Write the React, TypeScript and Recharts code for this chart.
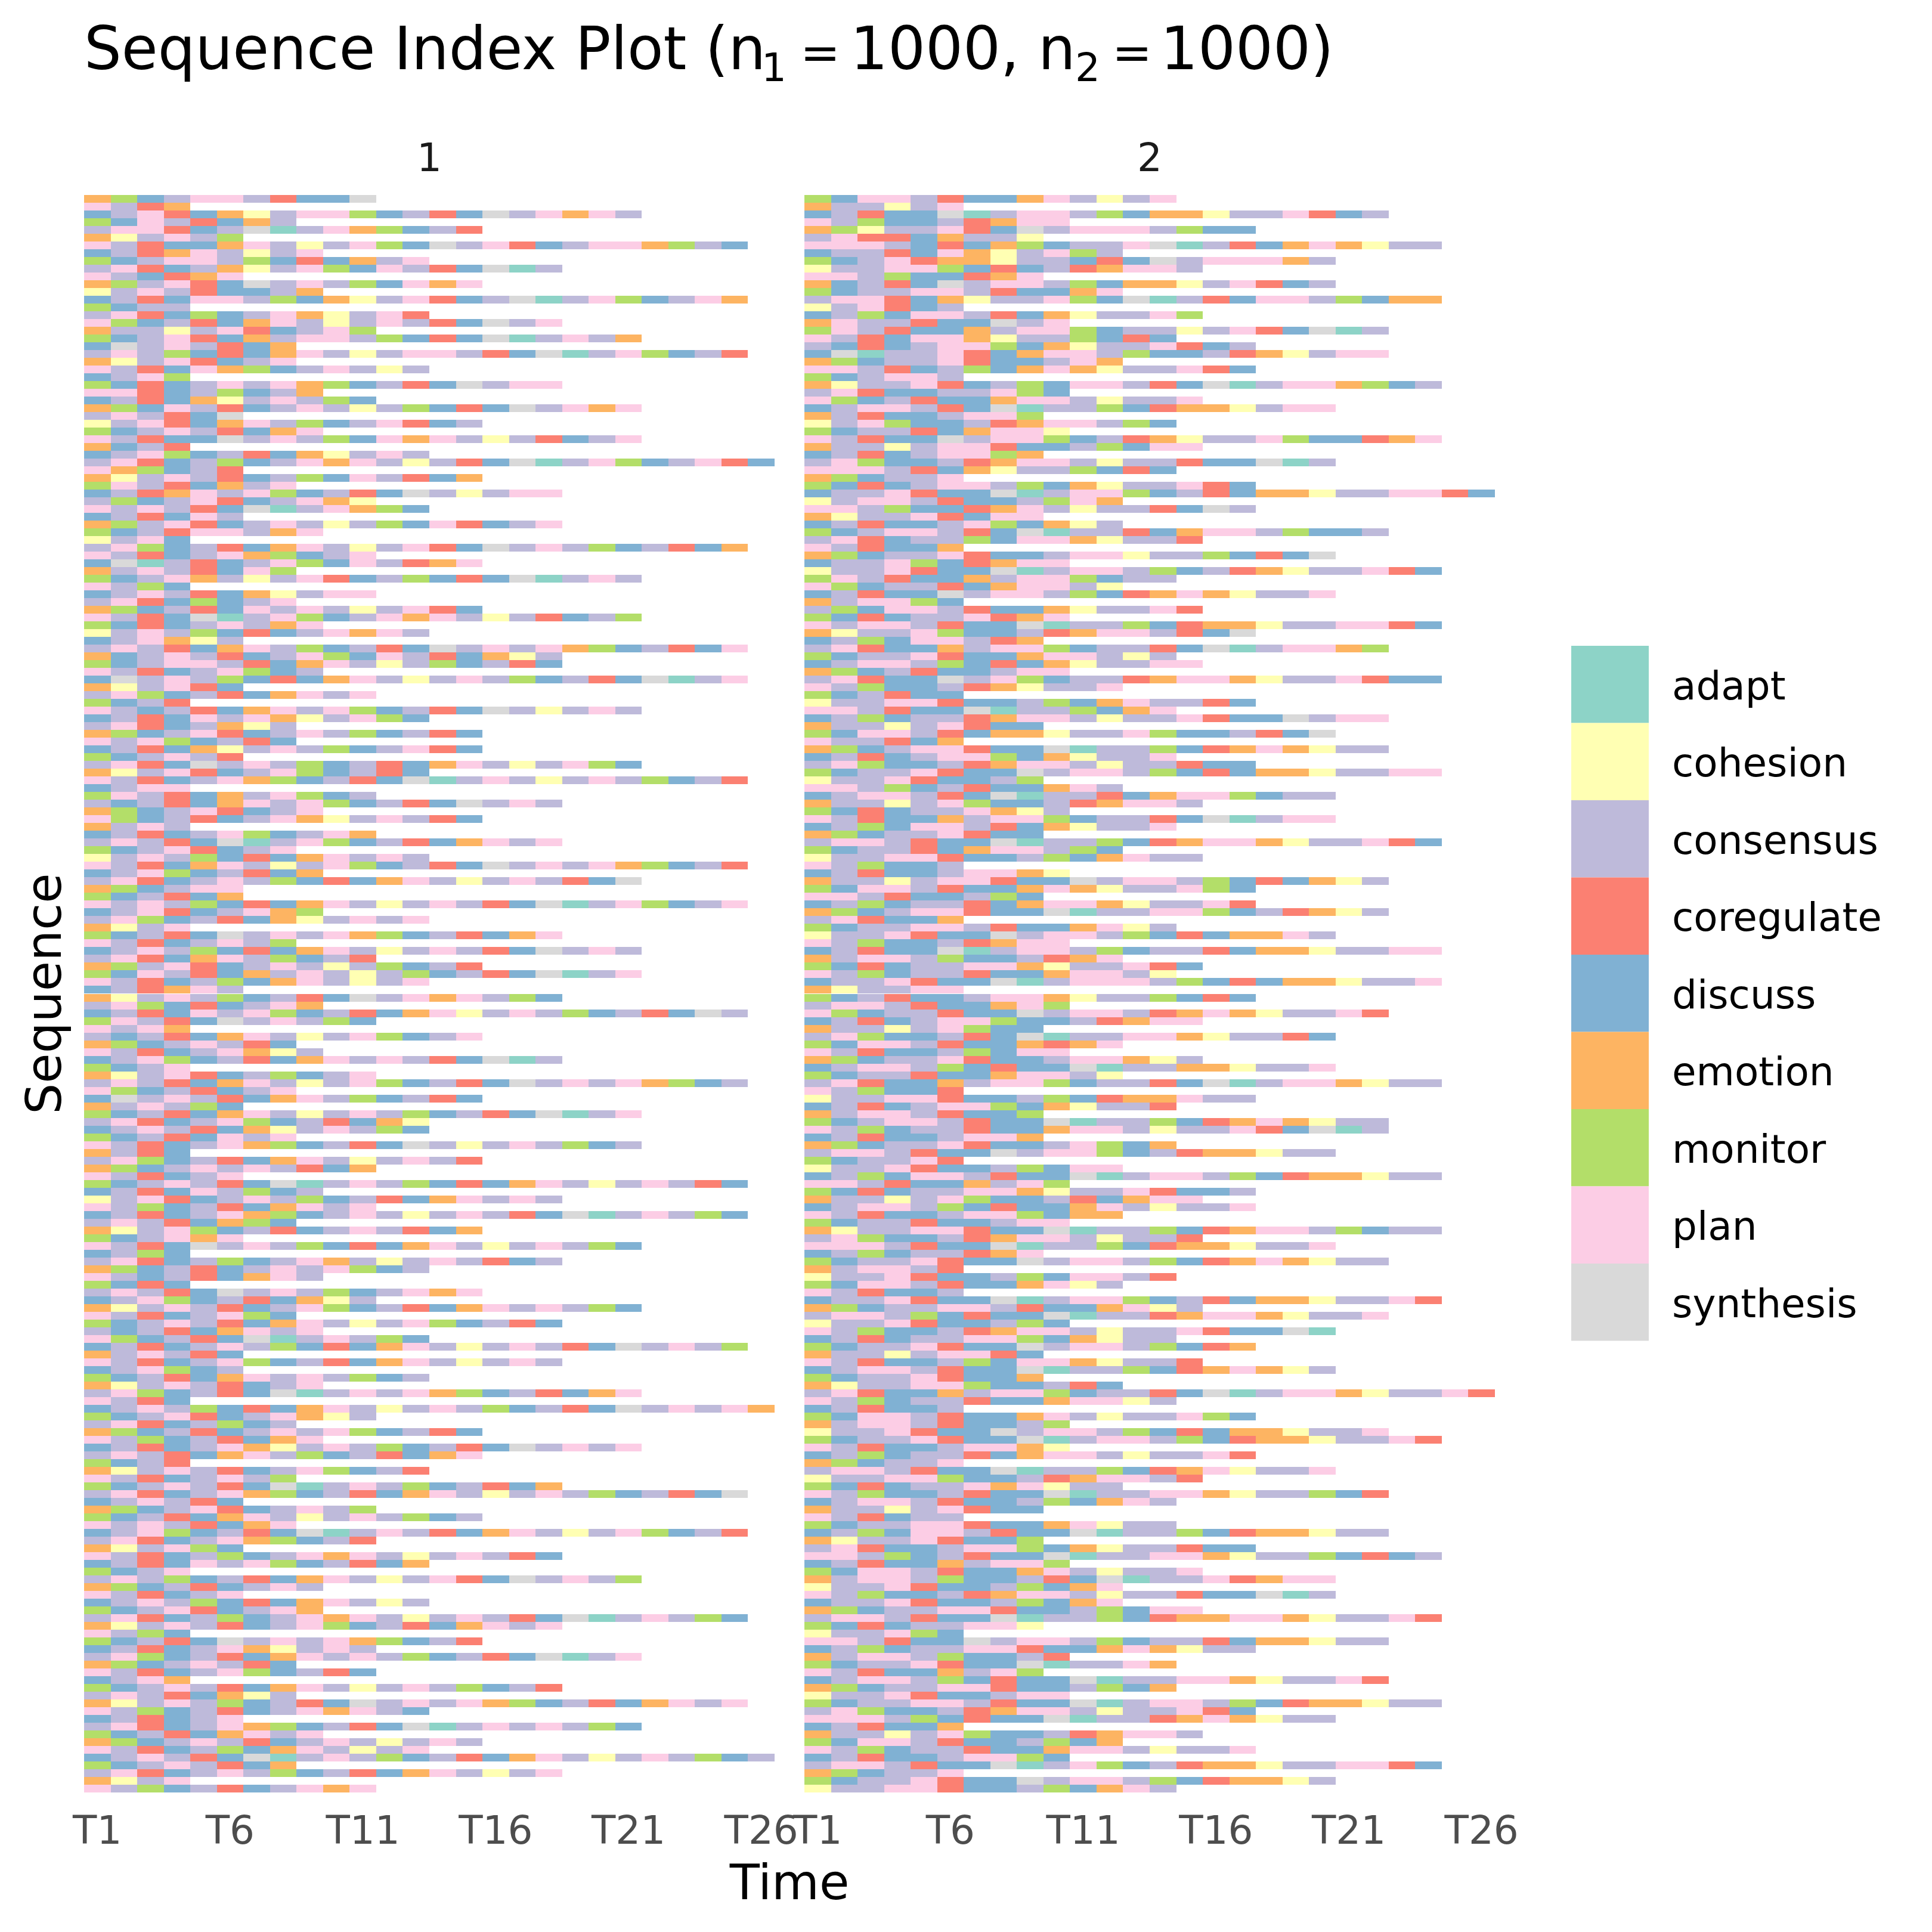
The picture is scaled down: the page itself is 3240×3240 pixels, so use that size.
import React from 'react';
import { BarChart, Bar, XAxis, YAxis, Cell } from 'recharts';

const STATE_NAMES = ['adapt', 'cohesion', 'consensus', 'coregulate', 'discuss', 'emotion', 'monitor', 'plan', 'synthesis'];
const STATE_CODES = ['a', 'h', 'c', 'r', 'd', 'e', 'm', 'p', 's'];
const STATE_COLORS = ['#8DD3C7', '#FFFFB3', '#BEBADA', '#FB8072', '#80B1D3', '#FDB462', '#B3DE69', '#FCCDE5', '#D9D9D9'];

const TIME_POINTS = ['T1', 'T2', 'T3', 'T4', 'T5', 'T6', 'T7', 'T8', 'T9', 'T10', 'T11', 'T12', 'T13',
  'T14', 'T15', 'T16', 'T17', 'T18', 'T19', 'T20', 'T21', 'T22', 'T23', 'T24', 'T25', 'T26'];
const TICK_LABELS = ['T1', 'T6', 'T11', 'T16', 'T21', 'T26'];
const GROUP_LABELS = ['1', '2'];
const GROUP_SIZES = [1000, 1000];

// one string per sequence, one letter per time point (codes in STATE_CODES)
const GROUP1_SEQS = [
  'emdcppcrdds', 'pcre', 'dcprdehcppmdcrdscpepc', 'mdpcrdec', 'cpprdcsacpemdcr', 'ehcpcm', 'pcrddepchcpmdscprdcppemcd', 'dcrepchcp', 'mdcppcmdrdecp', 'cprdcehcpmdpcrdsac',
  'pcdrep', 'emcprdscpcmdpep', 'hcpcrddce', 'dcrdppcmdehcprdcsacpmdcpe', 'mdcc', 'cprdmdcpehcpr', 'pmdcrdepchcpcrdscp', 'ecchcprdcpm', 'mdcprdecppcmdrdsacpce', 'dscpcrde',
  'cpcmdrdepchcppcrdsacpmdcr', 'ehcprdcp', 'pcrdpemdcpchc', 'dcpm', 'mdrdcpcpemdcrdscpp', 'pprdcmdce', 'dcrdehcpcmd', 'emdpcrdcpchcmdrdscpep', 'cpcrds', 'hcprdepcmdcprdc',
  'mdcpcrdep', 'pcrddscpcmdpepchcrdcp', 'edcr', 'dcpmdcrdehcpc', 'cprdcmdcpepchcrdsacpmdcprd', 'pemdcr', 'ehcpcrdcmdpcrde', 'mpcrdecp', 'dcrepcpmdcrdschcpp', 'cmdcprdcpeh',
  'pcpcrdsacpemd', 'dcrdpc', 'emcprdcpchcmdprdcp', 'mdcrppcep', 'hcpd', 'cpmdcrdepchcprdscpcmdcrde', 'pcrdcpemdcp', 'dsacrdcpmdpcrep', 'ecpcrdpm', 'mdcpechcprdcmdrdsacpc',
  'pcmd', 'dcpcrdehcpp', 'cprdmdcp', 'emdcrdpcpchcprd', 'pcrdsacpmdcpepchcrdcm', 'mdrdcpcep', 'hcpcmdrdcpepc', 'dcpehc', 'cpcrdepcmdcrdscpcpemdcrdp', 'edcpcrdcpmdpcrdehc',
  'mdcppcrdepchcmdcrd', 'pcrdcpmdc', 'dscpcmdrdepchcpcmdcrdsacp', 'ehcprd', 'cpmdcrdepcp', 'mdcr', 'pcdcrdepcpmdcrdschcpc', 'dcrdpcpehcpmd', 'cprdcehc', 'emdcprdcpcmdcrd',
  'pcpmdcrd', 'dcrdehcpcmdcprd', 'mdcpcr', 'cprdscpcmdcrdepchcpmd', 'ehcprdcpmdcrd', 'pcrdcpemdcrdsacpchcpcmdcr', 'dcpp', 'mpcrdecpmdc', 'cdcrdepcpmdcrdscpc', 'emdcprdcp',
  'pmdcrdcpehcpcrd', 'ecpc', 'dcrdcpmdcpe', 'cpcrdsacpmdcrdepcp', 'mdcprdcp', 'hcpcmdrdepcpc', 'pcrdepchcpmdcrdscpcpemdcr', 'dcpmdcrde', 'cprdcpcmdrdepchcpcrds', 'emdcpp',
  'mdcrde', 'pcpcmdrdepchcpcrdsacpmdcp', 'dcprdcpem', 'cpmdcrdehcpcp', 'ehcp', 'mdcrdscpcpemdcrdep', 'pcrdcpcm', 'dcpcmdrdepchcpcrdscpc', 'cprdepcmdcr', 'emcprdcpchcmdcr',
  'mdpcrdecpchcmdcrdsacp', 'pcrdcmdepchcp', 'dcrepc', 'ehcpcmdcrdscpepcmd', 'cpmdrdcpe', 'dcrdpcpmdcrdephcpcmdcrdsc', 'mpcrdscpcmd', 'pcpe', 'cdcrdepchcpmdcp', 'emdcpcrd',
  'pcrdcpehc', 'dcpmdcrdepcpcrdsac', 'mdcp', 'ehcprdcmdcp', 'cpcrdepchcpmdcrdscpcpemdc', 'pmdcrdcp', 'dscpcrdepcmdcrd', 'ecpcmd', 'mdcrdepchcpcmdcrdsacp', 'cprdcpmdcrdeh',
  'dcpcrdehcpcmd', 'mdcrdpcp', 'pcrdcpemdcrdschcpcmdc', 'ecrd', 'cpmdcrdepchcpcr', 'emdcpcpcrde', 'pcrdcp', 'mdcpcrdsacpcmdrdepchcpcrd', 'dcrdpcmdc', 'hcprdcpcmdcrdepcpc',
  'pcmdcrdepcp', 'dcrdcpemdcpchcpcrdsacpcmd', 'cpcrdemd', 'ehcpmdcrdcpcrde', 'mdcpep', 'pcrdscpcmdrdepchcpcmd', 'dcmd', 'cprdcmdcpechcpcrdc', 'emdcrdcpcpmdc', 'pcdcrdepc',
  'mdrd', 'cpcrdscpcmdcpep', 'dcpmdcrdehc', 'ehcpcrdcpmdcrdepcpcmd', 'pcrdcpmd', 'mdcpcrdepchcpmdcrd', 'cdcrdepcp', 'pmdcrdsacpcmd', 'dcrdcpcmdrdepchcpcrdscpcm', 'ecpcrd',
  'pcrdcpmdcrdepchcpc', 'dcpmdc', 'mdcrdepcpcmdc', 'ehcpcrdcp', 'cpmdcrdsacpcpemdcrdep', 'pcrd', 'dcpcmdrdepchcpcmdcrdscpcpe', 'mdcprdcpehc', 'cprdcmdc', 'emdcrdcpcpmdcrd',
  'pcmdcrdep', 'dcrdcpehcpcmdcrdscpcp', 'cpcrdepcmdcrdep', 'mdcr', 'ehcpcrdcpmdcr', 'pcrdcpcm', 'mdcpcrdsacpcmdcrde', 'cprdcpemdcrdepchcpcmdcrds', 'dcpcrd', 'emdcprdcpcm',
  'mdcrdepchcpcmdc', 'pcpcrdep', 'dcpmdcrdsacpcrdepchcpmdcr', 'cprdcpemdcr', 'ehcpmd', 'pcrdcmdcpepchcpcrd', 'dcrdpcpmdcrde', 'mdcp', 'cpcmdcrdepchcprdscpcm', 'emdcrdcpc',
  'pcrdcp', 'dcpcmdrdepchc', 'mdcprdcpe', 'cprdcmdcpepchcpcrdsacpcmd', 'ehcpcrdcpmdcrdepcp', 'pcmd', 'mdcrdscpcpemdcr', 'dcrdcpehcpc', 'cpmdcrdepcpcmdcrdsacp', 'emdcpcrd',
  'pcrdcpmdcrd', 'dcpe', 'mdcpcrdepchcpcmdcr', 'cpcrdehc', 'ehcpcmdcrdscpcpemdcrdepcp', 'pcmdcrdcpepcd', 'dcrdcp', 'cprdcpemdcrdsacpcpcmd', 'mdcrdepcp', 'emdcpcrdcpchcpc',
  'pcrdcmdepchcp', 'dcpcrdsacpcmdcrdepchcpcmdc', 'mdcpcrde', 'cprdcpcmdcrdepchcp', 'ehcp', 'pcmdcrdcpep',
];

const GROUP2_SEQS = [
  'mdppcrddepchcp', 'ecchcp', 'dcrddsacppcmdeehccprdc', 'pcmddcrepp', 'emhccprdscpppcmdd', 'cprrdecch', 'pppcdrdemdccpsacrdepehcc', 'dccrdpehcpmc', 'mdcpreehccdrdscpppec', 'hccppmdrdcreppc',
  'ppcmddrep', 'edcrdscppcmdeehcprdc', 'mdccppcrddep', 'cpprdehccpmdsacrdppcmdee', 'hcprdc', 'dcmdppcrdehccpm', 'epccrddscp', 'mpcrddecppmdcchcprdsac', 'pcrdppehccmdrd', 'cdrdcppmdehccprdc',
  'dsaccprdeppcmddcrehcpp', 'emdccprddcpe', 'ppcrdcmdepehccprd', 'mdcppc', 'ehccprdcmdppcrdsacppemdc', 'cprddccpmd', 'pmdcrddeppchccp', 'dcppcrdsaccmdreehcpp', 'ecrddcppm', 'hcpmddcreppcmd',
  'mdccrdepph', 'pcrddscppmdcrehccpmddrep', 'ecchcpprddcmdpp', 'dcrdcppme', 'cpmddcreppchccrddsac', 'pppcrdehccmdrd', 'emdccp', 'mdrdcppcmdehccprd', 'dccprddsacppmdcrdeehccpprd', 'hcppcrddcmpe',
  'ppcmddrepchccrdsc', 'ehccprdpp', 'dcrddcpmdehc', 'mdcppcrdsaccrdeppcmddc', 'cprdccmdppehccr', 'pcrdde', 'emdccprddcpphccmdrds', 'dccpmdrepp', 'hccprddsacppcmdcrehccprd', 'mpcrddecppmdcc',
  'pmdccrdeppch', 'dcrddscppcmdrepehccp', 'ecppmd', 'cmdppcrddehccpr', 'mdrdccprep', 'pcppcrddsaccmdreehccpprd', 'ehccpmddcreppcrds', 'dcmdppcre', 'cprddecppmdccrdsacppem', 'mdccprddeppchc',
  'dcppcmdrdehccpp', 'emdcrddcpp', 'cprddscpmdccreppehccprdd', 'pcmddcrehccp', 'mdcrdd', 'hccpprddcmdepccrd', 'ppcrddsaccmdep', 'dcmdccreppchccprddscpp', 'ecchcprdd', 'mdppcrdeehccpmddcrds',
  'pccrde', 'emdcpprddsaccmdrepehcc', 'dcrdcppmdehccp', 'cpmddcreppchccrdd', 'mdccprddscppcmdrdeehccpp', 'hccprddcm', 'ppcmdcrddepc', 'dcppcrdsaccrdeppmdcc', 'ecchcpmddcreppc', 'mdrdccpehc',
  'pcrddecppmdccrdsacpp', 'dcmdppcrdehccp', 'emdccprdd', 'cppcrddsaccmdreppehccprd', 'mdccrdeppcmd', 'hccpprddcmdepcc', 'pcmddc', 'dcrddcppeh', 'ecchcpprddscppcmdrdehc', 'mdppcrddepehccpmd',
  'ppcrddcmd', 'dcmdccrdeppehccpr', 'emdcpprddsaccppmdcrehc', 'cprdde', 'mdccppcrddephc', 'hccprddscppcmdrdeepc', 'pcmddcrepp', 'dcrddsacppcmdccrdeehccpp', 'ecppcmddcrep', 'mdrdccppehccprd',
  'pcmdccrddeppch', 'dccprddsacpppcmdrdeehccp', 'ehccpp', 'mdcrddcppehccmdrd', 'cppcrddepm', 'pmdccrddscppcrepehccpr', 'dcrdcppmddcrepp', 'ecchcpmdd', 'cpmddcrdsaccppehccrd', 'mdppcrdderep',
  'pcrddcmdpp', 'emdccprddcppehc', 'dcppcmdrddsacceehccp', 'mdccrddeppch', 'cprddecppmdccrdsacppehcc', 'pcmddr', 'hccpprddcmdreepcc', 'dcrdcppmdehccr', 'ecppcrddm', 'mdcppcrddsaccmdrepehcc',
  'pcmdccrddeppchccprdsac', 'dcrddcppe', 'emdccprddcpmde', 'cppcrddscppmdcreehcc', 'mdccpr', 'hccprddcmdpp', 'dcmdppcrddsacppcmdreehcc', 'ppcrddecpm', 'mdrdccppehccprddc', 'ecchcpmddcrdepp',
  'dcppcmdrddepchccp', 'pcrddcppmdee', 'mdccrddcpp', 'ehccpprddsaccmdreppcmdcc', 'cpmddcreppchccr', 'pppcrddsaccmdreehccp', 'dcmdccrep', 'mdccprddscppcmdrepehcc', 'ecppcr', 'hccprddcmdppcr',
  'mdppcrddephc', 'pcrddc', 'dccprddsacppmdcrdeehccpr', 'emdccppcrddephc', 'cppcmdrddsaccreppehccp', 'hccprddcmd', 'pcmddcreppchccprddsa', 'dcrdccppmdehcc', 'mdccprddscppcmdre', 'ecchcpprd',
  'pcrddcmdppehccr', 'dcppcrddsaccmdrepehc', 'mdccprdde', 'ehccppmddcrd', 'cprddecppmdccrdsacppehccpr', 'pcmdccrddepphc', 'dcrddc', 'mdppcrddepchccpmd', 'ecppcrddcm', 'hccprddscppcmdrdeehccp',
  'mdccprddsacppcmdreehccpr', 'pcrddcppeh', 'dcmdccrdeppchccpr', 'emdccp', 'cppcrddsaccmdrephccp', 'hccppmddcreppcr', 'mdrdccpephcc', 'pcmddcrddsaccppehccmdr', 'dcppcrddcmdepc', 'ecchcprdd',
  'pcrdcc', 'mdccpprddephcc', 'dcmdppcrddsaccmdreehcc', 'ehccprddm', 'cprddcppmdehccrdd', 'ppcmdcrddsaccppehccmdrdc', 'dcrddecppm', 'mdppcrddepchccp', 'ecppcmddcrdsaccprepp', 'hccprddcmdep',
  'pcmddcreppchccrddsac', 'dccprddcmdep', 'emdccpprddcmdpp', 'cppcrddsaccmdreeppehccpr', 'mdrdccpph', 'hccpmd', 'ppcrddscppcmdccrdeehcc', 'dcmdccpprddepehcc', 'ecppcmddcr', 'mdccprddsaccpe',
  'pcrddecpm', 'dcppcmdrddsaccppehccpr', 'emdccpprddcmde', 'hccprddcpp', 'mdccppcrddsacppcmdreehcc', 'cpmddcreppchccprd', 'pppcmdrddsaccrepehcc', 'dcrdde', 'ecchcpmddcreppc', 'mdppcrddcmde',
  'pcmdccrddeppchccp', 'dcrddcppmd', 'cppcrddsacpmdcreehccpprd', 'emdccp', 'mdccprddscppcmdreehc', 'hccpprddcmdepc',
];

// geometry (px)
const PANEL_LEFTS = [141, 1349];
const PANEL_TOP = 327;
const PANEL_W = 1158;
const PANEL_H = 2679;
const AXIS_H = 140;
const SIDE_PAD = 80;
const FONT = 'DejaVu Sans';

const colorOf = (ch: string | undefined) => {
  if (!ch) return 'none';
  const k = STATE_CODES.indexOf(ch);
  return k >= 0 ? STATE_COLORS[k] : 'none';
};

const buildRows = (seqs: string[]) =>
  seqs.map((seq, i) => {
    const row: Record<string, number | string> = { id: `seq${i + 1}` };
    TIME_POINTS.forEach((t, j) => {
      row[t] = j < seq.length ? 1 : 0;
    });
    return row;
  });

const TICK_POSITIONS = TICK_LABELS.map((l) => TIME_POINTS.indexOf(l) + 0.5);

const TimeTick = (props: any) => {
  const { x, y, payload } = props;
  const label = TIME_POINTS[Math.floor(payload.value)];
  return (
    <text x={x} y={y + 86} textAnchor="middle" fontSize={66} fill="#4D4D4D" fontFamily={FONT}>
      {label}
    </text>
  );
};

const Panel = ({ seqs }: { seqs: string[] }) => {
  const rows = buildRows(seqs);
  return (
    <BarChart
      layout="vertical"
      width={PANEL_W + 2 * SIDE_PAD}
      height={PANEL_H + AXIS_H}
      data={rows}
      margin={{ top: 0, right: SIDE_PAD, bottom: 0, left: SIDE_PAD }}
      barCategoryGap={0}
      barGap={0}
    >
      <XAxis
        type="number"
        domain={[0, TIME_POINTS.length]}
        ticks={TICK_POSITIONS}
        interval={0}
        tick={TimeTick}
        tickLine={false}
        axisLine={false}
        tickSize={0}
        tickMargin={0}
        height={AXIS_H}
      />
      <YAxis type="category" dataKey="id" hide width={0} />
      {TIME_POINTS.map((t, j) => (
        <Bar key={t} dataKey={t} stackId="seq" isAnimationActive={false}>
          {seqs.map((seq, i) => (
            <Cell key={i} fill={colorOf(seq[j])} />
          ))}
        </Bar>
      ))}
    </BarChart>
  );
};

const KEY_X = 2635;
const KEY_TOP = 1083;
const KEY_W = 130;
const KEY_H = 129.5;

export default function App() {
  return (
    <div style={{ position: 'absolute', left: 0, top: 0, width: 3240, height: 3240, background: '#ffffff', overflow: 'hidden' }}>
      <svg width={3240} height={3240} style={{ position: 'absolute', left: 0, top: 0 }} fontFamily={FONT}>
        <text y={116} fontSize={99} fill="#000000">
          <tspan x={141}>Sequence Index Plot (n</tspan>
          <tspan x={1277} y={136} fontSize={66}>1</tspan>
          <tspan x={1342} y={116} fontSize={80}>=</tspan>
          <tspan x={1426} fontSize={99}>{`${GROUP_SIZES[0]}, n`}</tspan>
          <tspan x={1803} y={136} fontSize={66}>2</tspan>
          <tspan x={1865} y={116} fontSize={80}>=</tspan>
          <tspan x={1946} fontSize={99}>{`${GROUP_SIZES[1]})`}</tspan>
        </text>
        {GROUP_LABELS.map((g, i) => (
          <text key={g} x={PANEL_LEFTS[i] + PANEL_W / 2} y={287} textAnchor="middle" fontSize={66} fill="#1A1A1A">
            {g}
          </text>
        ))}
        <text x={(PANEL_LEFTS[0] + PANEL_LEFTS[1] + PANEL_W) / 2} y={3185} textAnchor="middle" fontSize={82} fill="#000000">
          Time
        </text>
        <text
          x={102}
          y={PANEL_TOP + PANEL_H / 2}
          textAnchor="middle"
          fontSize={82}
          fill="#000000"
          transform={`rotate(-90, 102, ${PANEL_TOP + PANEL_H / 2})`}
        >
          Sequence
        </text>
        {STATE_NAMES.map((name, i) => (
          <g key={name}>
            <rect x={KEY_X} y={KEY_TOP + i * KEY_H} width={KEY_W} height={KEY_H} fill={STATE_COLORS[i]} />
            <text x={2804} y={KEY_TOP + i * KEY_H + KEY_H / 2 + 25} fontSize={66} fill="#000000">
              {name}
            </text>
          </g>
        ))}
      </svg>
      {[GROUP1_SEQS, GROUP2_SEQS].map((seqs, i) => (
        <div
          key={i}
          style={{ position: 'absolute', left: PANEL_LEFTS[i] - SIDE_PAD, top: PANEL_TOP, shapeRendering: 'crispEdges' as any }}
        >
          <Panel seqs={seqs} />
        </div>
      ))}
    </div>
  );
}
